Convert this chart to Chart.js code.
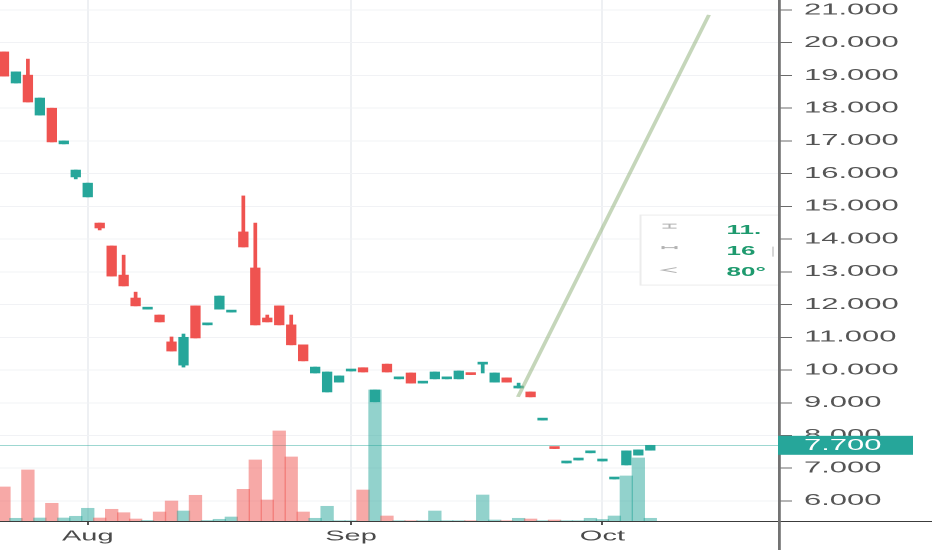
<!DOCTYPE html>
<html>
<head>
<meta charset="utf-8">
<script src="https://cdn.jsdelivr.net/npm/chart.js@4.4.1/dist/chart.umd.min.js"></script>
<style>
  html, body { margin: 0; padding: 0; background: #fff; overflow: hidden; }
  /* the reference is stretched 2x horizontally, so draw at half width and scale */
  #wrap { width: 466px; height: 550px; transform: scaleX(2); transform-origin: 0 0; }
</style>
</head>
<body>
<div id="wrap"><canvas id="chart" width="466" height="550"></canvas></div>
<script>
// Daily candles (price in thousand VND)
const opens  = [19.72, 18.77, 19.01, 17.79, 18.00, 16.91, 15.90, 15.29, 14.49, 13.79,
                12.90, 12.20, 11.86, 11.68, 10.86, 10.15, 11.96, 11.38, 11.86, 11.77,
                14.22, 13.12, 11.59, 11.96, 11.38, 10.77, 9.91, 9.33, 9.63, 9.97,
                10.07, 9.03, 10.18, 9.73, 9.91, 9.60, 9.73, 9.73, 9.73, 9.91,
                10.18, 9.63, 9.76, 9.45, 9.33, 8.47, 7.64, 7.16, 7.25, 7.47,
                7.22, 6.67, 7.10, 7.40, 7.55];
const closes = [18.98, 19.11, 18.19, 18.31, 16.97, 17.00, 16.11, 15.71, 14.34, 12.87,
                12.57, 11.96, 11.86, 11.47, 10.58, 11.00, 10.98, 11.38, 12.26, 11.77,
                13.76, 11.38, 11.47, 11.38, 10.77, 10.28, 10.09, 9.94, 9.82, 9.97,
                9.94, 9.39, 9.94, 9.73, 9.60, 9.60, 9.94, 9.73, 9.97, 9.86,
                10.18, 9.91, 9.63, 9.45, 9.18, 8.47, 7.60, 7.16, 7.25, 7.47,
                7.22, 6.67, 7.53, 7.56, 7.70];
const highs  = [19.72, 19.11, 19.50, 18.31, 18.00, 17.00, 16.11, 15.71, 14.49, 13.79,
                13.51, 12.38, 11.86, 11.68, 11.01, 11.10, 11.96, 11.38, 12.26, 11.77,
                15.32, 14.49, 11.68, 11.96, 11.68, 10.77, 10.09, 9.94, 9.82, 9.97,
                10.07, 9.39, 10.18, 9.73, 9.91, 9.60, 9.94, 9.73, 9.97, 9.91,
                10.18, 9.91, 9.76, 9.60, 9.33, 8.47, 7.64, 7.16, 7.25, 7.47,
                7.22, 6.67, 7.53, 7.56, 7.70];
const lows   = [18.98, 18.77, 18.19, 17.79, 16.97, 16.91, 15.84, 15.29, 14.28, 12.87,
                12.57, 11.96, 11.86, 11.47, 10.58, 10.09, 10.98, 11.38, 11.86, 11.77,
                13.76, 11.38, 11.47, 11.38, 10.77, 10.28, 9.91, 9.33, 9.63, 9.97,
                9.94, 9.03, 9.94, 9.73, 9.60, 9.60, 9.73, 9.73, 9.73, 9.86,
                9.91, 9.63, 9.63, 9.45, 9.18, 8.47, 7.60, 7.16, 7.25, 7.47,
                7.22, 6.67, 7.10, 7.40, 7.55];
// Volume (thousand shares)
const volumes = [340, 27, 510, 30, 177, 30, 47, 127, 30, 117,
                 83, 20, 5, 90, 200, 100, 257, 5, 17, 40,
                 317, 610, 210, 900, 640, 90, 27, 147, 3, 3,
                 310, 1310, 50, 3, 3, 3, 100, 3, 3, 3,
                 260, 10, 3, 27, 20, 3, 10, 3, 3, 27,
                 15, 50, 450, 630, 27];

const monthTicks = [7, 29, 50];
const monthNames = ['Aug', 'Sep', 'Oct'];
const priceTicks = [6, 7, 8, 9, 10, 11, 12, 13, 14, 15, 16, 17, 18, 19, 20, 21];
const lastPrice = 7.7;

// Trend line drawing (bar index, price)
const trendX = [42.94, 58.9];
const trendY = [9.18, 20.85];
// Measurement box anchored at (bar index, price)
const infoX = 53.1;
const infoTop = 14.75;
const infoRows = ['11.', '16', '80°'];

const UP = '#26a69a', DOWN = '#ef5350';
const isUp = opens.map((o, i) => closes[i] >= o);
const candleColors = isUp.map(u => u ? UP : DOWN);
const volColors = isUp.map(u => u ? 'rgba(38,166,154,0.5)' : 'rgba(239,83,80,0.5)');

const overlay = {
  id: 'overlay',
  beforeDatasetsDraw(chart) {
    const {ctx, chartArea: a, scales: {y}} = chart;
    const py = Math.round(y.getPixelForValue(lastPrice)) + 0.5;
    ctx.save();
    ctx.strokeStyle = 'rgba(38,166,154,0.45)';
    ctx.lineWidth = 1;
    ctx.beginPath(); ctx.moveTo(a.left, py); ctx.lineTo(a.right, py); ctx.stroke();
    ctx.restore();
  },
  afterDatasetsDraw(chart) {
    const {ctx, chartArea: a, scales: {x, y}} = chart;
    const bx = x.getPixelForValue(infoX), by = y.getPixelForValue(infoTop);
    ctx.save();
    ctx.beginPath(); ctx.rect(a.left, a.top, a.right - a.left, a.bottom - a.top); ctx.clip();
    ctx.fillStyle = '#fff';
    ctx.strokeStyle = '#ececec';
    ctx.lineWidth = 1;
    ctx.fillRect(bx, by, 100, 70);
    ctx.strokeRect(bx + 0.5, by + 0.5, 100, 70);

    // icons
    ctx.strokeStyle = '#b4b4b4';
    ctx.lineWidth = 1;
    const ix = bx + 11.5;
    ctx.beginPath();
    ctx.moveTo(ix, by + 9.5); ctx.lineTo(ix + 7, by + 9.5);
    ctx.moveTo(ix, by + 13.5); ctx.lineTo(ix + 7, by + 13.5);
    ctx.moveTo(ix + 3.5, by + 9.5); ctx.lineTo(ix + 3.5, by + 13.5);
    ctx.moveTo(ix, by + 33); ctx.lineTo(ix + 7, by + 33);
    ctx.moveTo(ix + 7, by + 53); ctx.lineTo(ix, by + 55.5); ctx.lineTo(ix + 7, by + 58);
    ctx.stroke();
    ctx.fillStyle = '#b4b4b4';
    ctx.fillRect(ix - 0.5, by + 31.5, 1.5, 3);
    ctx.fillRect(ix + 6, by + 31.5, 1.5, 3);

    ctx.fillStyle = '#1e9a6e';
    ctx.font = 'bold 13px "Liberation Sans"';
    ctx.textBaseline = 'middle';
    ctx.textAlign = 'left';
    [16, 37, 58].forEach((dy, i) => ctx.fillText(infoRows[i], bx + 43.5, by + dy));
    ctx.strokeStyle = '#d6d6d6';
    ctx.beginPath(); ctx.moveTo(a.right - 2.5, by + 32); ctx.lineTo(a.right - 2.5, by + 42); ctx.stroke();
    ctx.restore();
  },
  afterDraw(chart) {
    const {ctx, chartArea: a, scales: {y}} = chart;
    ctx.save();
    ctx.strokeStyle = '#3c3c3c';
    ctx.lineWidth = 1;
    ctx.beginPath(); ctx.moveTo(0, a.bottom + 0.5); ctx.lineTo(chart.width, a.bottom + 0.5); ctx.stroke();
    ctx.strokeStyle = '#737373';
    ctx.lineWidth = 1.4;
    ctx.beginPath(); ctx.moveTo(a.right + 0.7, 0); ctx.lineTo(a.right + 0.7, chart.height); ctx.stroke();

    const py = y.getPixelForValue(lastPrice);
    ctx.fillStyle = UP;
    ctx.fillRect(a.right, py - 9.5, 67.5, 19);
    ctx.fillStyle = '#fff';
    ctx.font = '15.5px "Liberation Sans"';
    ctx.textBaseline = 'middle';
    ctx.textAlign = 'left';
    ctx.fillText(lastPrice.toFixed(3), a.right + 13, py + 0.5);
    ctx.restore();
  }
};

new Chart(document.getElementById('chart'), {
  type: 'bar',
  data: {
    datasets: [
      {
        label: 'Volume',
        yAxisID: 'yv',
        data: volumes.map((v, i) => ({x: i, y: v})),
        backgroundColor: volColors,
        barThickness: 6,
        grouped: false,
        order: 3
      },
      {
        label: 'Wick',
        yAxisID: 'y',
        data: lows.map((l, i) => ({x: i, y: [l, highs[i]]})),
        backgroundColor: candleColors,
        barThickness: 1.2,
        grouped: false,
        order: 2
      },
      {
        label: 'Body',
        yAxisID: 'y',
        data: opens.map((o, i) => ({x: i, y: [o, closes[i]]})),
        backgroundColor: candleColors,
        barThickness: 4.5,
        minBarLength: 2,
        grouped: false,
        order: 1
      },
      {
        type: 'line',
        label: 'Trend',
        yAxisID: 'y',
        data: trendX.map((x, i) => ({x: x, y: trendY[i]})),
        borderColor: 'rgba(150,180,130,0.55)',
        borderWidth: 2,
        pointRadius: 0,
        order: 0
      }
    ]
  },
  options: {
    responsive: false,
    devicePixelRatio: 2,
    animation: false,
    events: [],
    layout: { padding: 0, autoPadding: false },
    plugins: { legend: { display: false }, tooltip: { enabled: false } },
    scales: {
      x: {
        type: 'linear',
        min: -0.33,
        max: 64.67,
        offset: false,
        afterBuildTicks: s => { s.ticks = monthTicks.map(v => ({value: v})); },
        afterFit: s => { s.height = 29; s.paddingLeft = 0; s.paddingRight = 0; },
        grid: { color: '#eef0f3', tickLength: 4, tickColor: '#555', offset: false },
        border: { display: false },
        ticks: {
          color: '#4a4a4a',
          font: { family: 'Liberation Sans', size: 14.5 },
          padding: 3,
          maxRotation: 0,
          autoSkip: false,
          callback: v => monthNames[monthTicks.indexOf(v)]
        }
      },
      y: {
        type: 'linear',
        position: 'right',
        min: 5.387,
        max: 21.306,
        afterBuildTicks: s => { s.ticks = priceTicks.map(v => ({value: v})); },
        afterFit: s => { s.width = 77; s.paddingTop = 0; s.paddingBottom = 0; },
        grid: { color: '#f1f2f5', tickLength: 7, tickColor: '#6b6b6b' },
        border: { display: false },
        ticks: {
          color: '#555',
          font: { family: 'Liberation Sans', size: 15.5 },
          padding: 6,
          callback: v => v.toFixed(3)
        }
      },
      yv: { display: false, min: 0, max: 5210 }
    }
  },
  plugins: [overlay]
});
</script>
</body>
</html>
